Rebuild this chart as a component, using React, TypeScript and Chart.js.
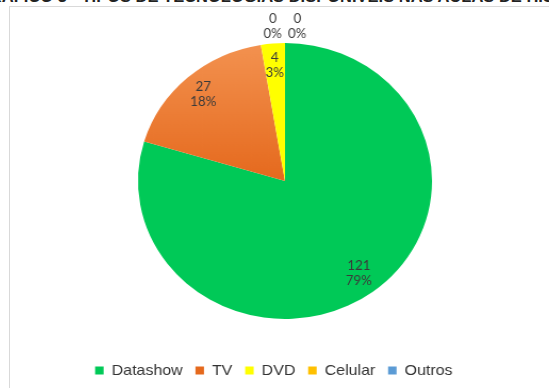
import React, { useEffect, useRef } from 'react';
import { Chart, registerables, layouts } from 'chart.js';

Chart.register(...registerables);

const titleText = 'GRÁFICO 3 - TIPOS DE TECNOLOGIAS DISPONÍVEIS NAS AULAS DE HISTÓRIA';
const categories = ['Datashow', 'TV', 'DVD', 'Celular', 'Outros'];
const values = [121, 27, 4, 0, 0];
const percentLabels = ['79%', '18%', '3%', '0%', '0%'];
const colors = ['#00C957', '#ED7D31', '#FFFF00', '#FFC000', '#5B9BD5'];

const STRETCH = 1.065;
const PIE_SHIFT = 21;

const leftSpacer = {
  id: 'leftSpacer',
  beforeInit(chart: any) {
    const box: any = {
      position: 'left',
      weight: 100,
      fullSize: false,
      options: {},
      left: 0, top: 0, right: 0, bottom: 0, width: 0, height: 0,
      update(_w: number, h: number) {
        this.width = PIE_SHIFT;
        this.height = h;
      },
      isHorizontal() { return false; },
      draw() {},
    };
    layouts.addBox(chart, box);
  },
};

const sliceLabels = {
  id: 'sliceLabels',
  afterDatasetsDraw(chart: any) {
    const ctx = chart.ctx;
    const meta = chart.getDatasetMeta(0);
    const data = chart.data.datasets[0].data as number[];
    const zeroIdx = data.map((v, i) => (v === 0 ? i : -1)).filter((i) => i >= 0);
    ctx.save();
    ctx.font = '12.5px Lato';
    ctx.fillStyle = '#3a3a3a';
    ctx.textAlign = 'center';
    ctx.textBaseline = 'middle';
    meta.data.forEach((arc: any, i: number) => {
      const { x, y, startAngle, endAngle, outerRadius } = arc.getProps(
        ['x', 'y', 'startAngle', 'endAngle', 'outerRadius'], true);
      let cx: number, cy: number;
      if (data[i] === 0) {
        const k = zeroIdx.indexOf(i);
        const off = (k - (zeroIdx.length - 1) / 2) * 23;
        cx = x + Math.cos(startAngle) * outerRadius * 1.12 + off;
        cy = y + Math.sin(startAngle) * outerRadius * 1.12;
      } else {
        const mid = (startAngle + endAngle) / 2;
        cx = x + Math.cos(mid) * outerRadius * 0.84;
        cy = y + Math.sin(mid) * outerRadius * 0.84;
      }
      ctx.fillText(String(data[i]), cx, cy - 7.5);
      ctx.fillText(percentLabels[i], cx, cy + 7.5);
    });
    ctx.restore();
  },
};

export default function App() {
  const ref = useRef<HTMLCanvasElement>(null);

  useEffect(() => {
    if (!ref.current) return;
    const chart = new Chart(ref.current, {
      type: 'pie',
      data: {
        labels: categories,
        datasets: [{
          data: values,
          backgroundColor: (c: any) => {
            const i = c.dataIndex;
            if (i === 1 && c.chart.chartArea) {
              const area = c.chart.chartArea;
              const g = c.chart.ctx.createLinearGradient(0, area.top, 0, (area.top + area.bottom) / 2);
              g.addColorStop(0, '#F39250');
              g.addColorStop(1, '#E5691D');
              return g;
            }
            return colors[i];
          },
          borderWidth: 0,
        }],
      },
      options: {
        responsive: false,
        animation: false,
        layout: { padding: { top: 43, left: 0, right: 0, bottom: 0 } },
        plugins: {
          tooltip: { enabled: false },
          legend: {
            position: 'bottom',
            title: { display: true, text: ' ', font: { size: 10 }, padding: { top: 20, bottom: 0 } },
            labels: {
              boxWidth: 8,
              boxHeight: 8,
              padding: 12,
              color: '#333333',
              font: { family: "'Liberation Sans', Arial, sans-serif", size: 15 },
            },
          },
        },
      },
      plugins: [leftSpacer, sliceLabels],
    });
    return () => chart.destroy();
  }, []);

  return (
    <div style={{ position: 'fixed', left: 0, top: 0, width: 549, height: 388, overflow: 'hidden', background: '#fff' }}>
      <div style={{
        position: 'absolute', left: 9, top: 6, width: 600, height: 420,
        border: '1px solid #d9d9d9', boxSizing: 'border-box',
      }} />
      <div style={{
        position: 'absolute', left: -23, top: -13, whiteSpace: 'nowrap',
        font: "bold 16.5px 'Liberation Sans', Arial, sans-serif", lineHeight: '18px', color: '#222',
      }}>{titleText}</div>
      <div style={{
        position: 'absolute', left: 0, top: 0, width: 549, height: 388,
        transform: `scaleX(${STRETCH})`, transformOrigin: '285px 0',
      }}>
        <canvas ref={ref} width={549} height={388} style={{ display: 'block' }} />
      </div>
    </div>
  );
}
